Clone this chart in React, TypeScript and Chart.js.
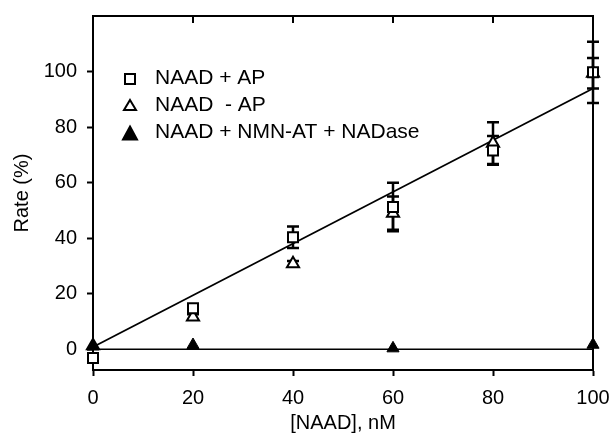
import React, { useEffect, useRef } from "react";
import { Chart, registerables } from "chart.js";

Chart.register(...registerables);

// ---- data ----
const xTickValues = [0, 20, 40, 60, 80, 100];
const yTickValues = [0, 20, 40, 60, 80, 100];

const concentrations = [0, 20, 40, 60, 80, 100];
const ratePlusAP = [-3.2, 14.7, 40.3, 51.2, 71.6, 99.7];
const errPlusAP = [0.8, 1.5, 3.9, 8.7, 5.2, 11];
const rateMinusAP = [1.2, 11.6, 30.8, 49.0, 74.2, 99.4];
const errMinusAP = [0, 1, 1, 6, 7.5, 5.5];
const nmnConcentrations = [0, 20, 60, 100];
const rateNmnNadase = [1.0, 1.5, 0.3, 1.6];
const fitX = [0, 100];
const fitY = [0.8, 93.9];
const zeroX = [0, 100];
const zeroY = [0, 0];

const legendLabels = ["NAAD + AP", "NAAD  - AP", "NAAD + NMN-AT + NADase"];

const FONT = "'Liberation Sans', Arial, Helvetica, sans-serif";

const toPts = (xs: number[], ys: number[]) => xs.map((x, i) => ({ x, y: ys[i] }));

const errorBarPlugin = {
  id: "errorBars",
  beforeDatasetsDraw(chart: any) {
    const ctx = chart.ctx;
    const xs = chart.scales.x;
    const ys = chart.scales.y;
    ctx.save();
    ctx.strokeStyle = "#000";
    ctx.lineWidth = 2.5;
    const series = [
      { y: ratePlusAP, e: errPlusAP },
      { y: rateMinusAP, e: errMinusAP },
    ];
    series.forEach((s) => {
      concentrations.forEach((x, i) => {
        const e = s.e[i];
        if (!e) return;
        const px = xs.getPixelForValue(x);
        const top = ys.getPixelForValue(s.y[i] + e);
        const bot = ys.getPixelForValue(s.y[i] - e);
        ctx.beginPath();
        ctx.moveTo(px, top);
        ctx.lineTo(px, bot);
        ctx.moveTo(px - 6, top);
        ctx.lineTo(px + 6, top);
        ctx.moveTo(px - 6, bot);
        ctx.lineTo(px + 6, bot);
        ctx.stroke();
      });
    });
    ctx.restore();
  },
};

const framePlugin = {
  id: "frameLegend",
  afterDraw(chart: any) {
    const ctx = chart.ctx;
    const { left, right, top, bottom } = chart.chartArea;
    const xs = chart.scales.x;
    ctx.save();
    ctx.strokeStyle = "#000";
    ctx.lineWidth = 2;
    ctx.beginPath();
    ctx.moveTo(left - 1, top);
    ctx.lineTo(right, top);
    ctx.lineTo(right, bottom + 1);
    ctx.stroke();
    // inward ticks on top
    xTickValues.forEach((v) => {
      const px = xs.getPixelForValue(v);
      ctx.beginPath();
      ctx.moveTo(px, top);
      ctx.lineTo(px, top + 7);
      ctx.stroke();
    });

    // legend
    const mx = 130;
    const baselines = [83.5, 110.5, 137.5];
    ctx.lineWidth = 2;
    // square
    ctx.fillStyle = "#fff";
    ctx.beginPath();
    ctx.rect(mx - 5, 74, 10, 10);
    ctx.fill();
    ctx.stroke();
    // open triangle
    ctx.beginPath();
    ctx.moveTo(mx, 100);
    ctx.lineTo(mx + 6, 110);
    ctx.lineTo(mx - 6, 110);
    ctx.closePath();
    ctx.fill();
    ctx.stroke();
    // filled triangle
    ctx.fillStyle = "#000";
    ctx.beginPath();
    ctx.moveTo(mx, 126.5);
    ctx.lineTo(mx + 7, 139.5);
    ctx.lineTo(mx - 7, 139.5);
    ctx.closePath();
    ctx.fill();
    ctx.stroke();

    ctx.fillStyle = "#000";
    ctx.font = `21px ${FONT}`;
    ctx.textBaseline = "alphabetic";
    ctx.textAlign = "left";
    legendLabels.forEach((t, i) => ctx.fillText(t, 155, baselines[i]));
    ctx.restore();
  },
};

export default function App() {
  const ref = useRef<HTMLCanvasElement | null>(null);

  useEffect(() => {
    document.body.style.margin = "0";
    if (!ref.current) return;
    const chart = new Chart(ref.current, {
      type: "scatter",
      data: {
        datasets: [
          {
            label: legendLabels[0],
            data: toPts(concentrations, ratePlusAP),
            pointStyle: "rect",
            pointRadius: 7.07,
            pointBackgroundColor: "#fff",
            pointBorderColor: "#000",
            pointBorderWidth: 2,
            showLine: false,
            clip: false,
            order: 1,
          } as any,
          {
            label: legendLabels[1],
            data: toPts(concentrations, rateMinusAP),
            pointStyle: "triangle",
            pointRadius: 7,
            pointBackgroundColor: "#fff",
            pointBorderColor: "#000",
            pointBorderWidth: 2,
            showLine: false,
            clip: false,
            order: 2,
          },
          {
            label: legendLabels[2],
            data: toPts(nmnConcentrations, rateNmnNadase),
            pointStyle: "triangle",
            pointRadius: 7,
            pointBackgroundColor: "#000",
            pointBorderColor: "#000",
            pointBorderWidth: 1,
            showLine: false,
            clip: false,
            order: 0,
          },
          {
            label: "fit",
            type: "line",
            data: toPts(fitX, fitY),
            borderColor: "#000",
            borderWidth: 1.8,
            pointRadius: 0,
            showLine: true,
            clip: false,
            order: 4,
          } as any,
          {
            label: "zero",
            type: "line",
            data: toPts(zeroX, zeroY),
            borderColor: "#000",
            borderWidth: 1.6,
            pointRadius: 0,
            showLine: true,
            clip: false,
            order: 5,
          } as any,
        ],
      },
      options: {
        responsive: false,
        animation: false,
        layout: { padding: { top: 16, right: 20, left: 0, bottom: 0 } },
        plugins: { legend: { display: false }, tooltip: { enabled: false } },
        scales: {
          x: {
            type: "linear",
            min: 0,
            max: 100,
            afterBuildTicks: (s: any) => {
              s.ticks = xTickValues.map((v) => ({ value: v }));
            },
            afterFit: (s: any) => {
              s.height = 69;
              s.paddingLeft = 0;
              s.paddingRight = 0;
            },
            ticks: {
              color: "#000",
              font: { family: FONT, size: 20 },
              padding: 10,
              maxRotation: 0,
            },
            grid: {
              display: true,
              drawOnChartArea: false,
              drawTicks: true,
              tickLength: 6,
              tickColor: "#000",
              tickWidth: 2,
              color: "#000",
            },
            border: { display: true, color: "#000", width: 2 },
            title: {
              display: true,
              text: "[NAAD], nM",
              color: "#000",
              font: { family: FONT, size: 20 },
              padding: { top: 0, bottom: 4 },
            },
          },
          y: {
            type: "linear",
            min: -7.5,
            max: 120,
            afterBuildTicks: (s: any) => {
              s.ticks = yTickValues.map((v) => ({ value: v }));
            },
            afterFit: (s: any) => {
              s.width = 93;
              s.paddingTop = 0;
              s.paddingBottom = 0;
            },
            ticks: {
              color: "#000",
              font: { family: FONT, size: 20 },
              padding: 10,
            },
            grid: {
              display: true,
              drawOnChartArea: false,
              drawTicks: true,
              tickLength: 6,
              tickColor: "#000",
              tickWidth: 2,
              color: "#000",
            },
            border: { display: true, color: "#000", width: 2 },
            title: {
              display: true,
              text: "Rate (%)",
              color: "#000",
              font: { family: FONT, size: 20 },
              padding: { top: 10, bottom: 0 },
            },
          },
        },
      } as any,
      plugins: [errorBarPlugin, framePlugin],
    });
    return () => chart.destroy();
  }, []);

  return (
    <div style={{ width: 613, height: 439 }}>
      <canvas ref={ref} width={613} height={439} />
    </div>
  );
}
